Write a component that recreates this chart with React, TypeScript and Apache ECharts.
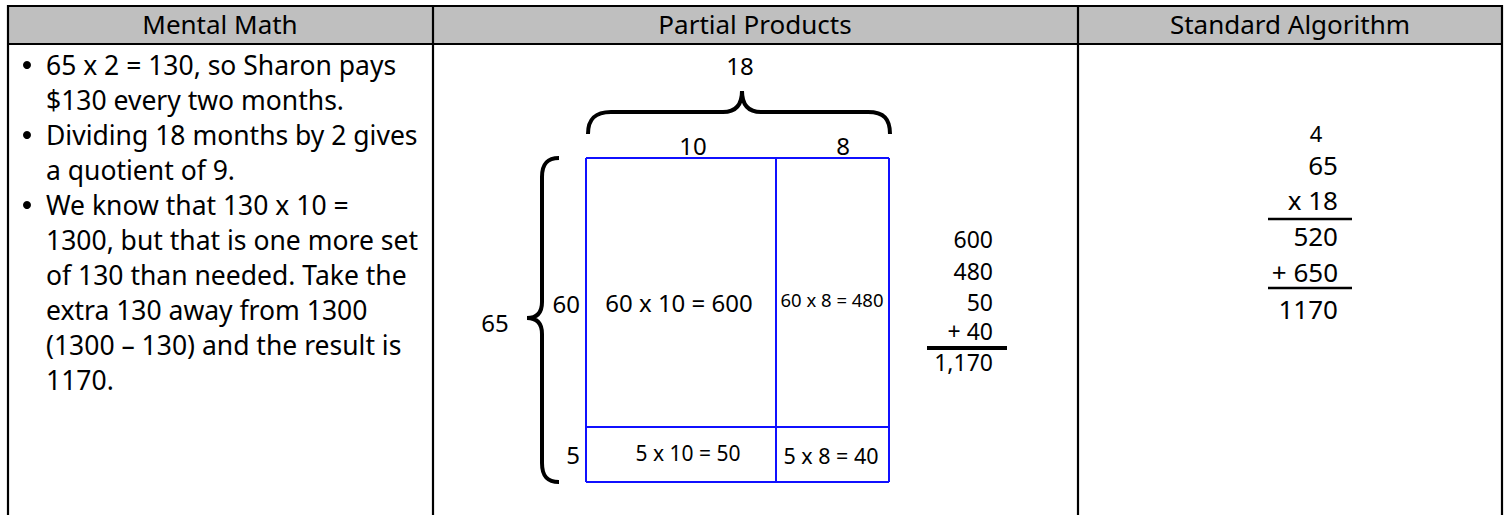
import React, { useEffect, useRef } from "react";
import * as echarts from "echarts";

const headers = ["Mental Math", "Partial Products", "Standard Algorithm"];
const mentalBullets = [
  ["65 x 2 = 130, so Sharon pays", "$130 every two months."],
  ["Dividing 18 months by 2 gives", "a quotient of 9."],
  [
    "We know that 130 x 10 =",
    "1300, but that is one more set",
    "of 130 than needed. Take the",
    "extra 130 away from 1300",
    "(1300 \u2013 130) and the result is",
    "1170.",
  ],
];
const widthTotal = "18";
const widthParts = ["10", "8"];
const heightTotal = "65";
const heightParts = ["60", "5"];
const cellProducts = [
  ["60 x 10 = 600", "60 x 8 = 480"],
  ["5 x 10 = 50", "5 x 8 = 40"],
];
const partialAddends = ["600", "480", "50", "+ 40"];
const partialTotal = "1,170";
const carryDigit = "4";
const algorithmFactors = ["65", "x 18"];
const algorithmPartials = ["520", "+ 650"];
const algorithmTotal = "1170";

const FONT = "'Noto Sans', 'Open Sans', sans-serif";
const BLUE = "#1010ff";

const TOP_BRACE =
  "M588 134 C588 119 595 112 611 112 L723 112 C736 112 742 105 742 91 C742 105 748 112 761 112 L868 112 C884 112 890 119 890 134";
const LEFT_BRACE =
  "M559 158 C547 158 542 164 542 177 L542 302 C542 313 537 318 527 318 C537 318 542 323 542 334 L542 463 C542 476 547 482 559 482";

function txt(text: string, x: number, y: number, size: number, align = "center") {
  return {
    type: "text",
    silent: true,
    style: {
      text,
      x,
      y,
      fontSize: size,
      fontFamily: FONT,
      fill: "#000",
      align,
      verticalAlign: "middle",
      textAlign: align,
      textVerticalAlign: "middle",
    },
  };
}

function line(x1: number, y1: number, x2: number, y2: number, w: number, color = "#000") {
  return {
    type: "line",
    silent: true,
    shape: { x1, y1, x2, y2 },
    style: { stroke: color, lineWidth: w },
  };
}

export default function App() {
  const ref = useRef<HTMLDivElement>(null);
  useEffect(() => {
    if (!ref.current) return;
    echarts.graphic.registerShape("topBrace", echarts.graphic.extendPath(TOP_BRACE, {}));
    echarts.graphic.registerShape("leftBrace", echarts.graphic.extendPath(LEFT_BRACE, {}));
    const chart = echarts.init(ref.current, null, { renderer: "svg" });

    const els: any[] = [];
    els.push({
      type: "rect",
      silent: true,
      shape: { x: 8, y: 6, width: 1494, height: 38 },
      style: { fill: "#bfbfbf" },
    });
    els.push(line(7, 6, 1503, 6, 2.2));
    els.push(line(7, 44, 1503, 44, 2.2));
    els.push(line(8, 5, 8, 515, 2.2));
    els.push(line(433, 5, 433, 515, 2.2));
    els.push(line(1078, 5, 1078, 515, 2.2));
    els.push(line(1502, 5, 1502, 515, 2.2));
    const centers = [220, 755, 1290];
    headers.forEach((h, i) => els.push(txt(h, centers[i], 24, 26)));

    let row = 0;
    mentalBullets.forEach((lines) => {
      lines.forEach((l, j) => {
        const y = 65 + row * 35;
        if (j === 0) {
          els.push({
            type: "circle",
            silent: true,
            shape: { cx: 27, cy: y, r: 4 },
            style: { fill: "#000" },
          });
        }
        els.push(txt(l, 46, y, 26.5, "left"));
        row++;
      });
    });

    els.push({ type: "topBrace", silent: true, x: 0, y: 0, style: { fill: "none", stroke: "#000", lineWidth: 4 } });
    els.push({ type: "leftBrace", silent: true, x: 0, y: 0, style: { fill: "none", stroke: "#000", lineWidth: 4 } });
    els.push(txt(widthTotal, 740, 65, 24));
    els.push(txt(widthParts[0], 693, 145, 24));
    els.push(txt(widthParts[1], 843, 145, 24));
    els.push(txt(heightTotal, 495, 322, 24));
    els.push(txt(heightParts[0], 580, 303, 24, "right"));
    els.push(txt(heightParts[1], 580, 454, 24, "right"));

    const xs = [586, 776, 889];
    const ys = [158, 427, 482];
    ys.forEach((y) => els.push(line(xs[0], y, xs[2], y, 2, BLUE)));
    xs.forEach((x) => els.push(line(x, ys[0], x, ys[2], 2, BLUE)));
    els.push(txt(cellProducts[0][0], 679, 302, 24));
    els.push(txt(cellProducts[0][1], 832, 299, 18.5));
    els.push(txt(cellProducts[1][0], 688, 453, 21));
    els.push(txt(cellProducts[1][1], 831, 455, 21.5));

    const sumY = [239, 271, 302, 331];
    partialAddends.forEach((s, i) => els.push(txt(s, 993, sumY[i], 23, "right")));
    els.push(line(927, 348, 1007, 348, 4));
    els.push(txt(partialTotal, 993, 362, 23, "right"));

    els.push(txt(carryDigit, 1316, 133, 22));
    els.push(txt(algorithmFactors[0], 1338, 165, 26, "right"));
    els.push(txt(algorithmFactors[1], 1338, 200, 26, "right"));
    els.push(line(1268, 219, 1352, 219, 2.5));
    els.push(txt(algorithmPartials[0], 1338, 236, 26, "right"));
    els.push(txt(algorithmPartials[1], 1338, 272, 26, "right"));
    els.push(line(1268, 288, 1352, 288, 2.5));
    els.push(txt(algorithmTotal, 1338, 309, 26, "right"));

    chart.setOption({
      animation: false,
      backgroundColor: "#fff",
      graphic: { elements: els },
    });
    return () => chart.dispose();
  }, []);
  return (
    <div
      ref={ref}
      style={{ position: "fixed", left: 0, top: 0, width: 1507, height: 515 }}
    />
  );
}
